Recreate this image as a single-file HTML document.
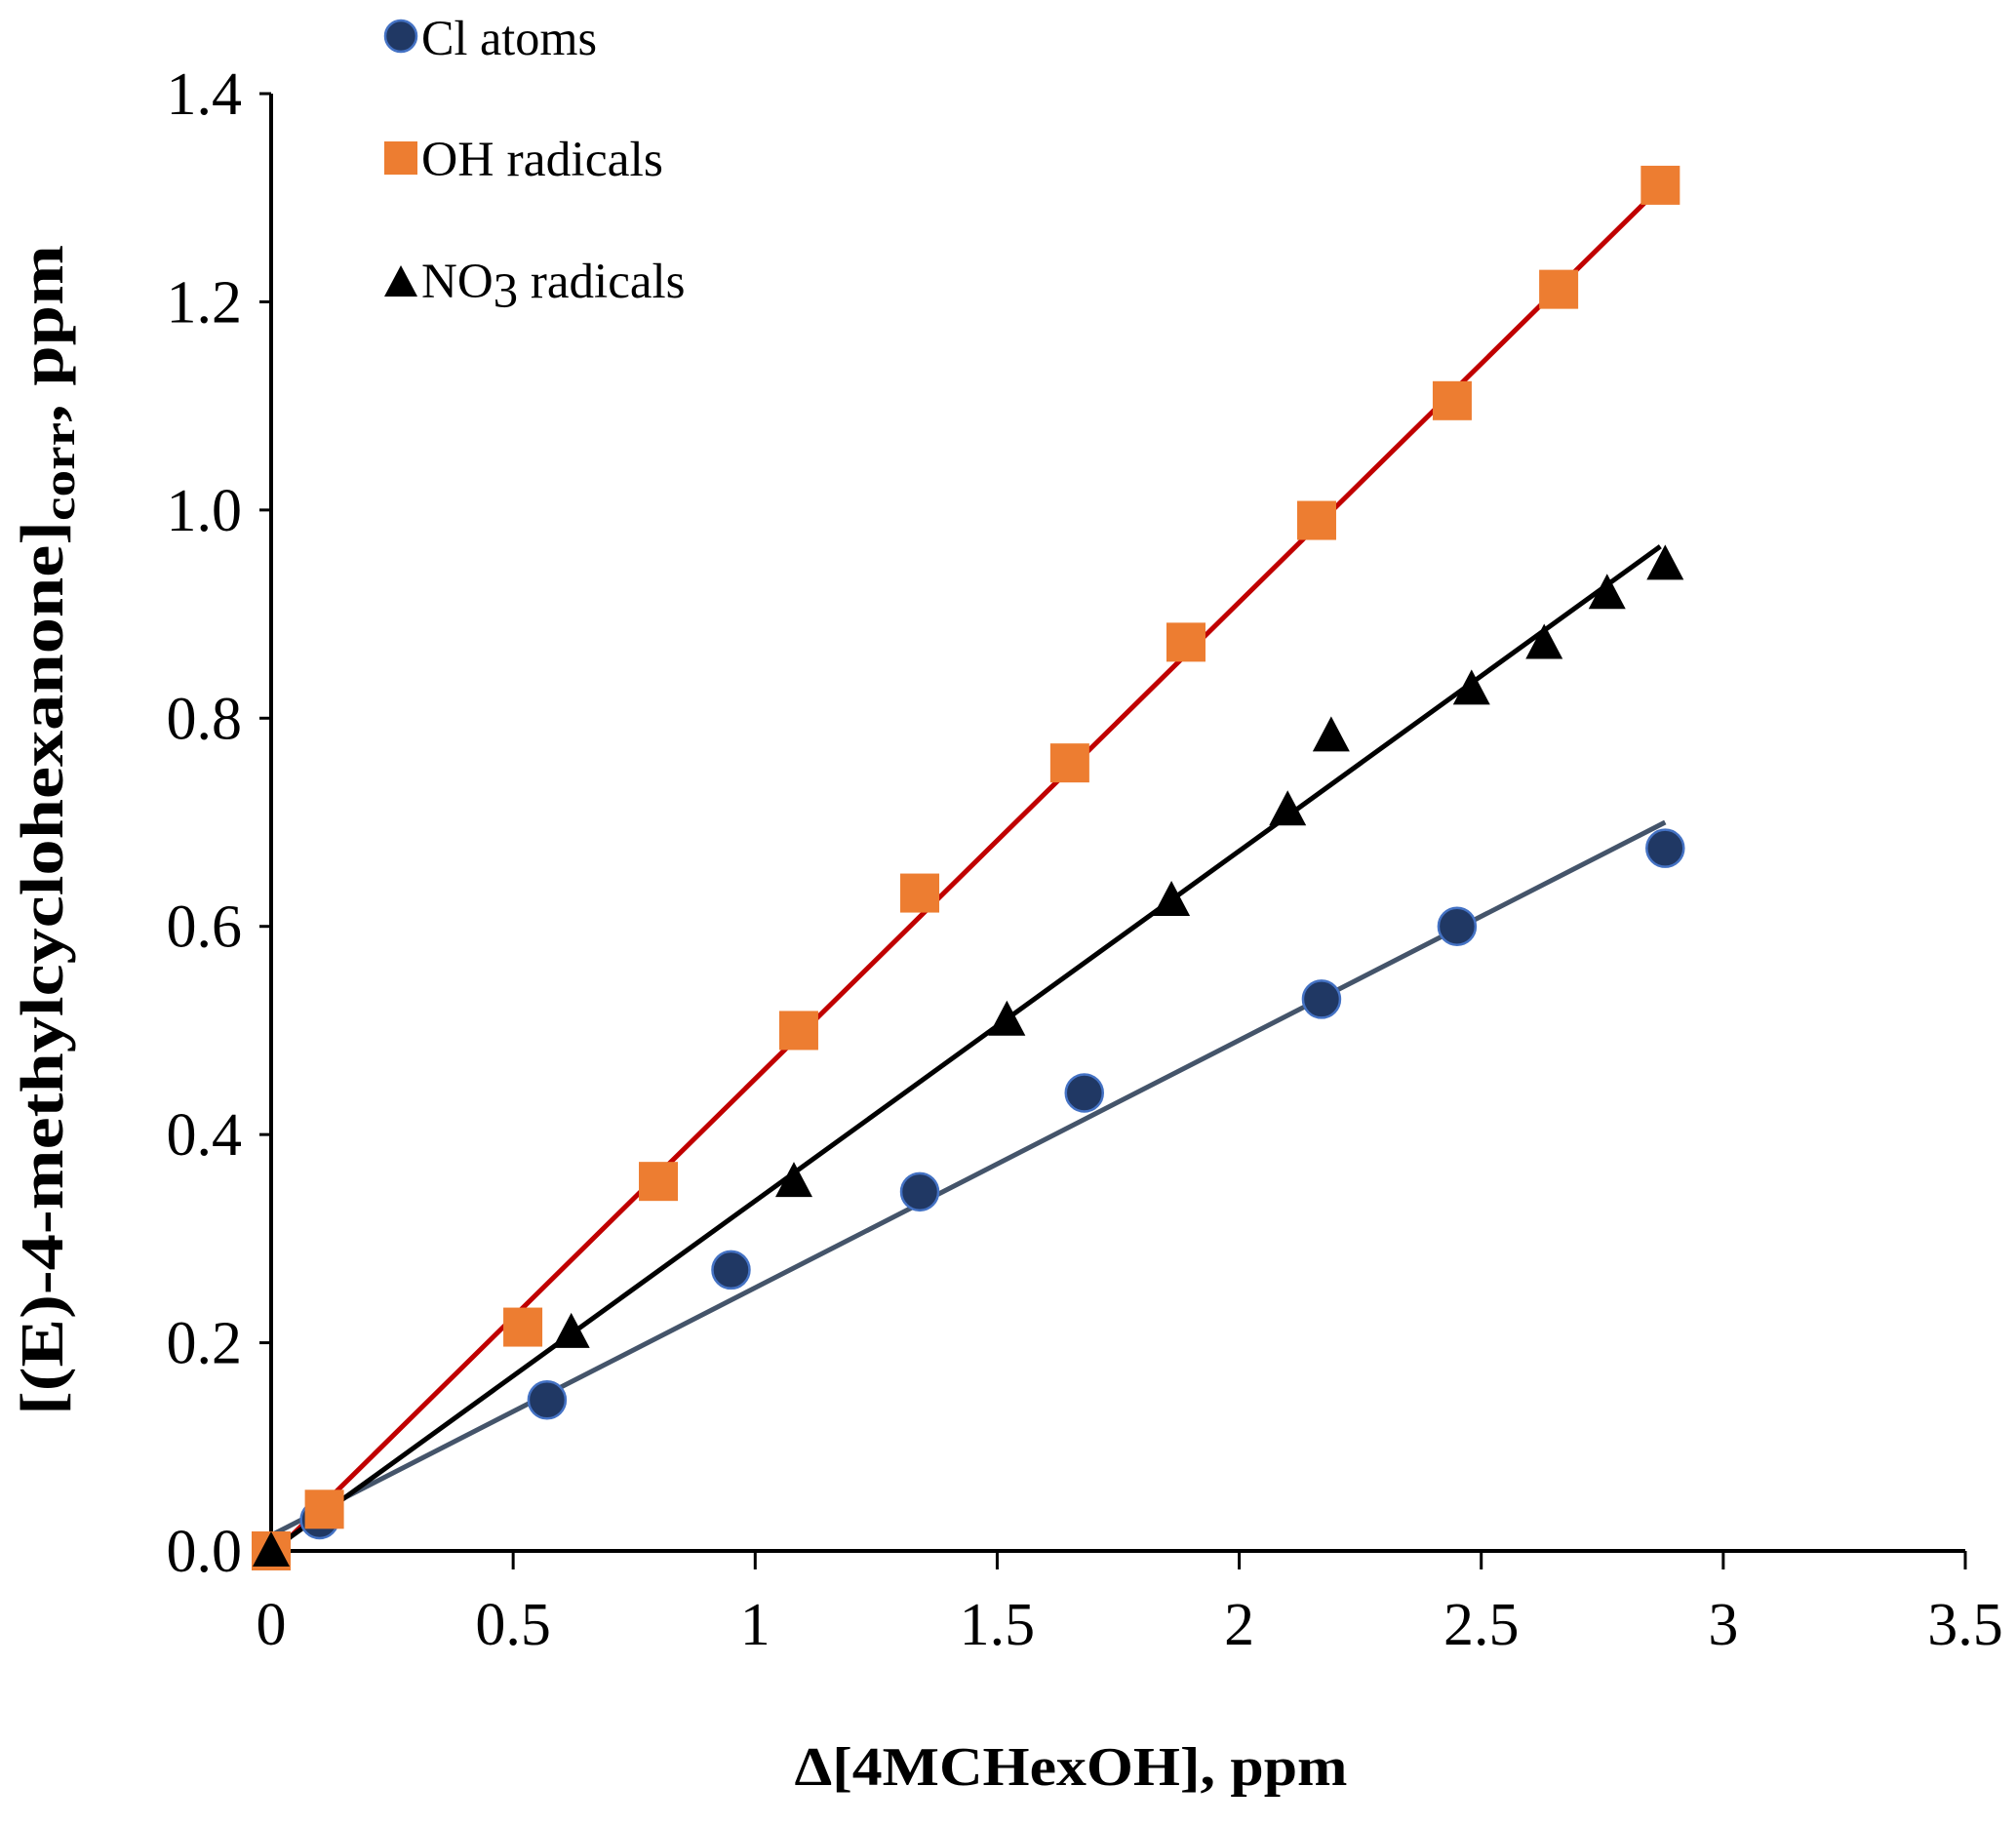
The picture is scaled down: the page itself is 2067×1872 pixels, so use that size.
<!DOCTYPE html>
<html><head><meta charset="utf-8"><style>
body{margin:0;background:#fff}
svg{display:block;font-family:"Liberation Serif",serif}
</style></head><body>
<svg id="chart" width="2067" height="1872" viewBox="0 0 2067 1872">
<g id="axes"></g>
<g id="lines"></g>
<g id="marks"></g>
<g>
 <g><circle cx="411" cy="37" r="16" fill="#203864" stroke="#4472c4" stroke-width="2.5"/><text x="432" y="56" font-size="51" textLength="180" lengthAdjust="spacingAndGlyphs">Cl atoms</text></g>
 <g><rect x="394" y="145" width="34" height="34" fill="#ed7d31"/><text x="432" y="180" font-size="51" textLength="248" lengthAdjust="spacingAndGlyphs">OH radicals</text></g>
 <g><polygon points="394,304 411,272 428,304" fill="#000"/><text x="432" y="305" font-size="51">NO<tspan dy="10">3</tspan><tspan dy="-10"> radicals</tspan></text></g>
</g>
<text x="1098" y="1830" text-anchor="middle" font-size="56" font-weight="bold" textLength="567" lengthAdjust="spacingAndGlyphs">Δ[4MCHexOH], ppm</text>
<text transform="translate(64,851) rotate(-90)" x="0" y="0" text-anchor="middle" font-size="62" font-weight="bold" textLength="1200" lengthAdjust="spacingAndGlyphs">[(E)-4-methylcyclohexanone]<tspan font-size="46" dy="12">corr</tspan><tspan dy="-12">, ppm</tspan></text>
</svg>
<script>
const xTicks=[0,0.5,1,1.5,2,2.5,3,3.5];
const xTickLabels=["0","0.5","1","1.5","2","2.5","3","3.5"];
const yTicks=[0,0.2,0.4,0.6,0.8,1.0,1.2,1.4];
const yTickLabels=["0.0","0.2","0.4","0.6","0.8","1.0","1.2","1.4"];
const clX=[0.1,0.57,0.95,1.34,1.68,2.17,2.45,2.88];
const clY=[0.03,0.145,0.27,0.345,0.44,0.53,0.6,0.675];
const ohX=[0,0.11,0.52,0.8,1.09,1.34,1.65,1.89,2.16,2.44,2.66,2.87];
const ohY=[0,0.04,0.215,0.355,0.5,0.632,0.757,0.873,0.99,1.105,1.212,1.312];
const no3X=[0,0.62,1.08,1.52,1.86,2.1,2.19,2.48,2.63,2.76,2.88];
const no3Y=[0,0.21,0.355,0.51,0.625,0.712,0.783,0.828,0.872,0.92,0.948];
const clFit=[[0,0.015],[2.88,0.70]];
const ohFit=[[0.01,0],[2.87,1.31]];
const no3Fit=[[0,0],[2.87,0.965]];
const NS="http://www.w3.org/2000/svg";
const X0=278,X1=2015,Y0=1590,Y1=96;
const sx=v=>X0+(X1-X0)*v/3.5, sy=v=>Y0-(Y0-Y1)*v/1.4;
function mk(t,a,p){const e=document.createElementNS(NS,t);for(const k in a)e.setAttribute(k,a[k]);p.appendChild(e);return e;}
const axes=document.getElementById('axes');
let ya=mk('line',{x1:X0,y1:Y0,x2:X0,y2:Y1,stroke:'#000','stroke-width':4},axes);


let xa=mk('line',{x1:X0,y1:Y0,x2:X1,y2:Y0,stroke:'#000','stroke-width':4},axes);


xTicks.forEach((v,i)=>{
 mk('line',{x1:sx(v),y1:Y0,x2:sx(v),y2:Y0+19,stroke:'#000','stroke-width':3},axes);
 const t=mk('text',{x:sx(v),y:1686,'text-anchor':'middle','font-size':62},axes);t.textContent=xTickLabels[i];
 
 
});
yTicks.forEach((v,i)=>{
 mk('line',{x1:X0-12,y1:sy(v),x2:X0,y2:sy(v),stroke:'#000','stroke-width':3},axes);
 const t=mk('text',{x:248,y:sy(v)+21,'text-anchor':'end','font-size':62},axes);t.textContent=yTickLabels[i];
 
 
});
const lines=document.getElementById('lines');
[[clFit,'#44546a','cl-fit-line'],[ohFit,'#c00000','oh-fit-line'],[no3Fit,'#000','no3-fit-line']].forEach(([f,c,n])=>{
 const l=mk('line',{x1:sx(f[0][0]),y1:sy(f[0][1]),x2:sx(f[1][0]),y2:sy(f[1][1]),stroke:c,'stroke-width':5},lines);
 
 
});
const marks=document.getElementById('marks');
clX.forEach((x,i)=>{const e=mk('circle',{cx:sx(x),cy:sy(clY[i]),r:19,fill:'#203864',stroke:'#4472c4','stroke-width':2.5},marks);
 
 });
ohX.forEach((x,i)=>{const e=mk('rect',{x:sx(x)-20,y:sy(ohY[i])-20,width:40,height:40,fill:'#ed7d31'},marks);
 
 });
no3X.forEach((x,i)=>{const cx=sx(x),cy=sy(no3Y[i]);const e=mk('polygon',{points:`${cx-19},${cy+16} ${cx},${cy-20} ${cx+19},${cy+16}`,fill:'#000'},marks);
 
 });
</script>
</body></html>
